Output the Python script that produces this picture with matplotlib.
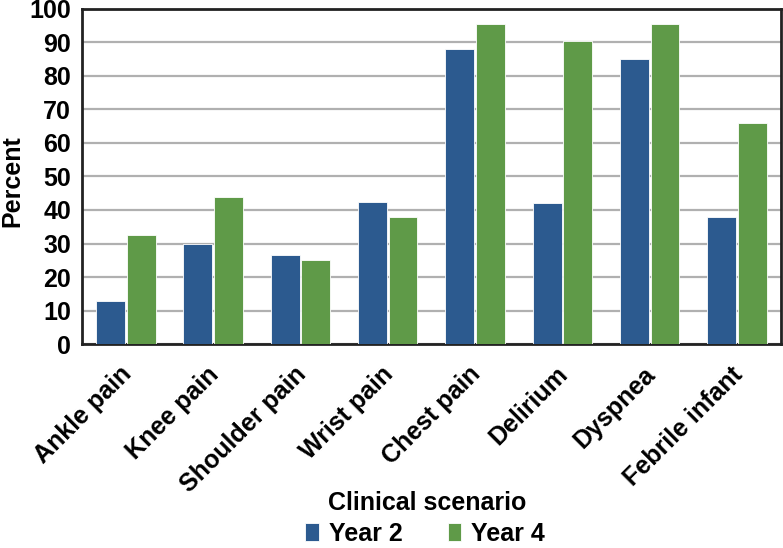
import matplotlib.pyplot as plt
import matplotlib.transforms as mtransforms
import numpy as np

categories = ["Ankle pain", "Knee pain", "Shoulder pain", "Wrist pain",
              "Chest pain", "Delirium", "Dyspnea", "Febrile infant"]
year2 = [13, 30, 26.5, 42.5, 88, 42, 85, 38]
year4 = [32.5, 44, 25, 38, 95.5, 90.5, 95.5, 66]
yticks = [0, 10, 20, 30, 40, 50, 60, 70, 80, 90, 100]

plt.rcParams['font.family'] = ['Liberation Sans', 'DejaVu Sans']
FS = 18

fig = plt.figure(figsize=(7.83, 5.48), dpi=100)
ax = fig.add_axes([0.105, 0.372, 0.892, 0.612])

x = np.arange(len(categories))
w = 0.33
ax.bar(x - 0.175, year2, w, color="#2C5A8F", edgecolor="white", linewidth=0.6, label="Year 2", zorder=3)
ax.bar(x + 0.175, year4, w, color="#5F9A48", edgecolor="white", linewidth=0.6, label="Year 4", zorder=3)

ax.set_xlim(-0.5, len(categories) - 0.5)
ax.set_ylim(0, 100)
ax.set_yticks(yticks)
ax.set_yticklabels([str(t) for t in yticks], fontsize=FS, fontweight="bold")
ax.yaxis.grid(True, color="#b0b0b0", linewidth=1.6, zorder=0)
ax.tick_params(axis="both", length=0)
ax.tick_params(axis="y", pad=8)

ax.set_xticks(x)
ax.set_xticklabels(categories, rotation=45, ha="right", rotation_mode="anchor",
                   fontsize=FS, fontweight="bold")
ax.tick_params(axis="x", pad=13)
# nudge the rotated labels a little to the left
shift = mtransforms.ScaledTranslation(-0.07, 0, fig.dpi_scale_trans)
for lab in ax.get_xticklabels():
    lab.set_transform(lab.get_transform() + shift)

for s in ax.spines.values():
    s.set_linewidth(2)
    s.set_color("#222222")

fig.text(0.016, 0.67, "Percent", rotation=90, ha="center", va="center",
         fontsize=FS, fontweight="bold")
fig.text(0.546, 0.082, "Clinical scenario", ha="center", va="center",
         fontsize=FS, fontweight="bold")

fig.legend(loc="center", bbox_to_anchor=(0.543, 0.026), ncol=2, frameon=False,
           prop={"size": FS, "weight": "bold"}, handlelength=0.55, handleheight=0.75,
           handletextpad=0.4, columnspacing=1.8, borderpad=0)

fig.savefig("out.png", dpi=100)
